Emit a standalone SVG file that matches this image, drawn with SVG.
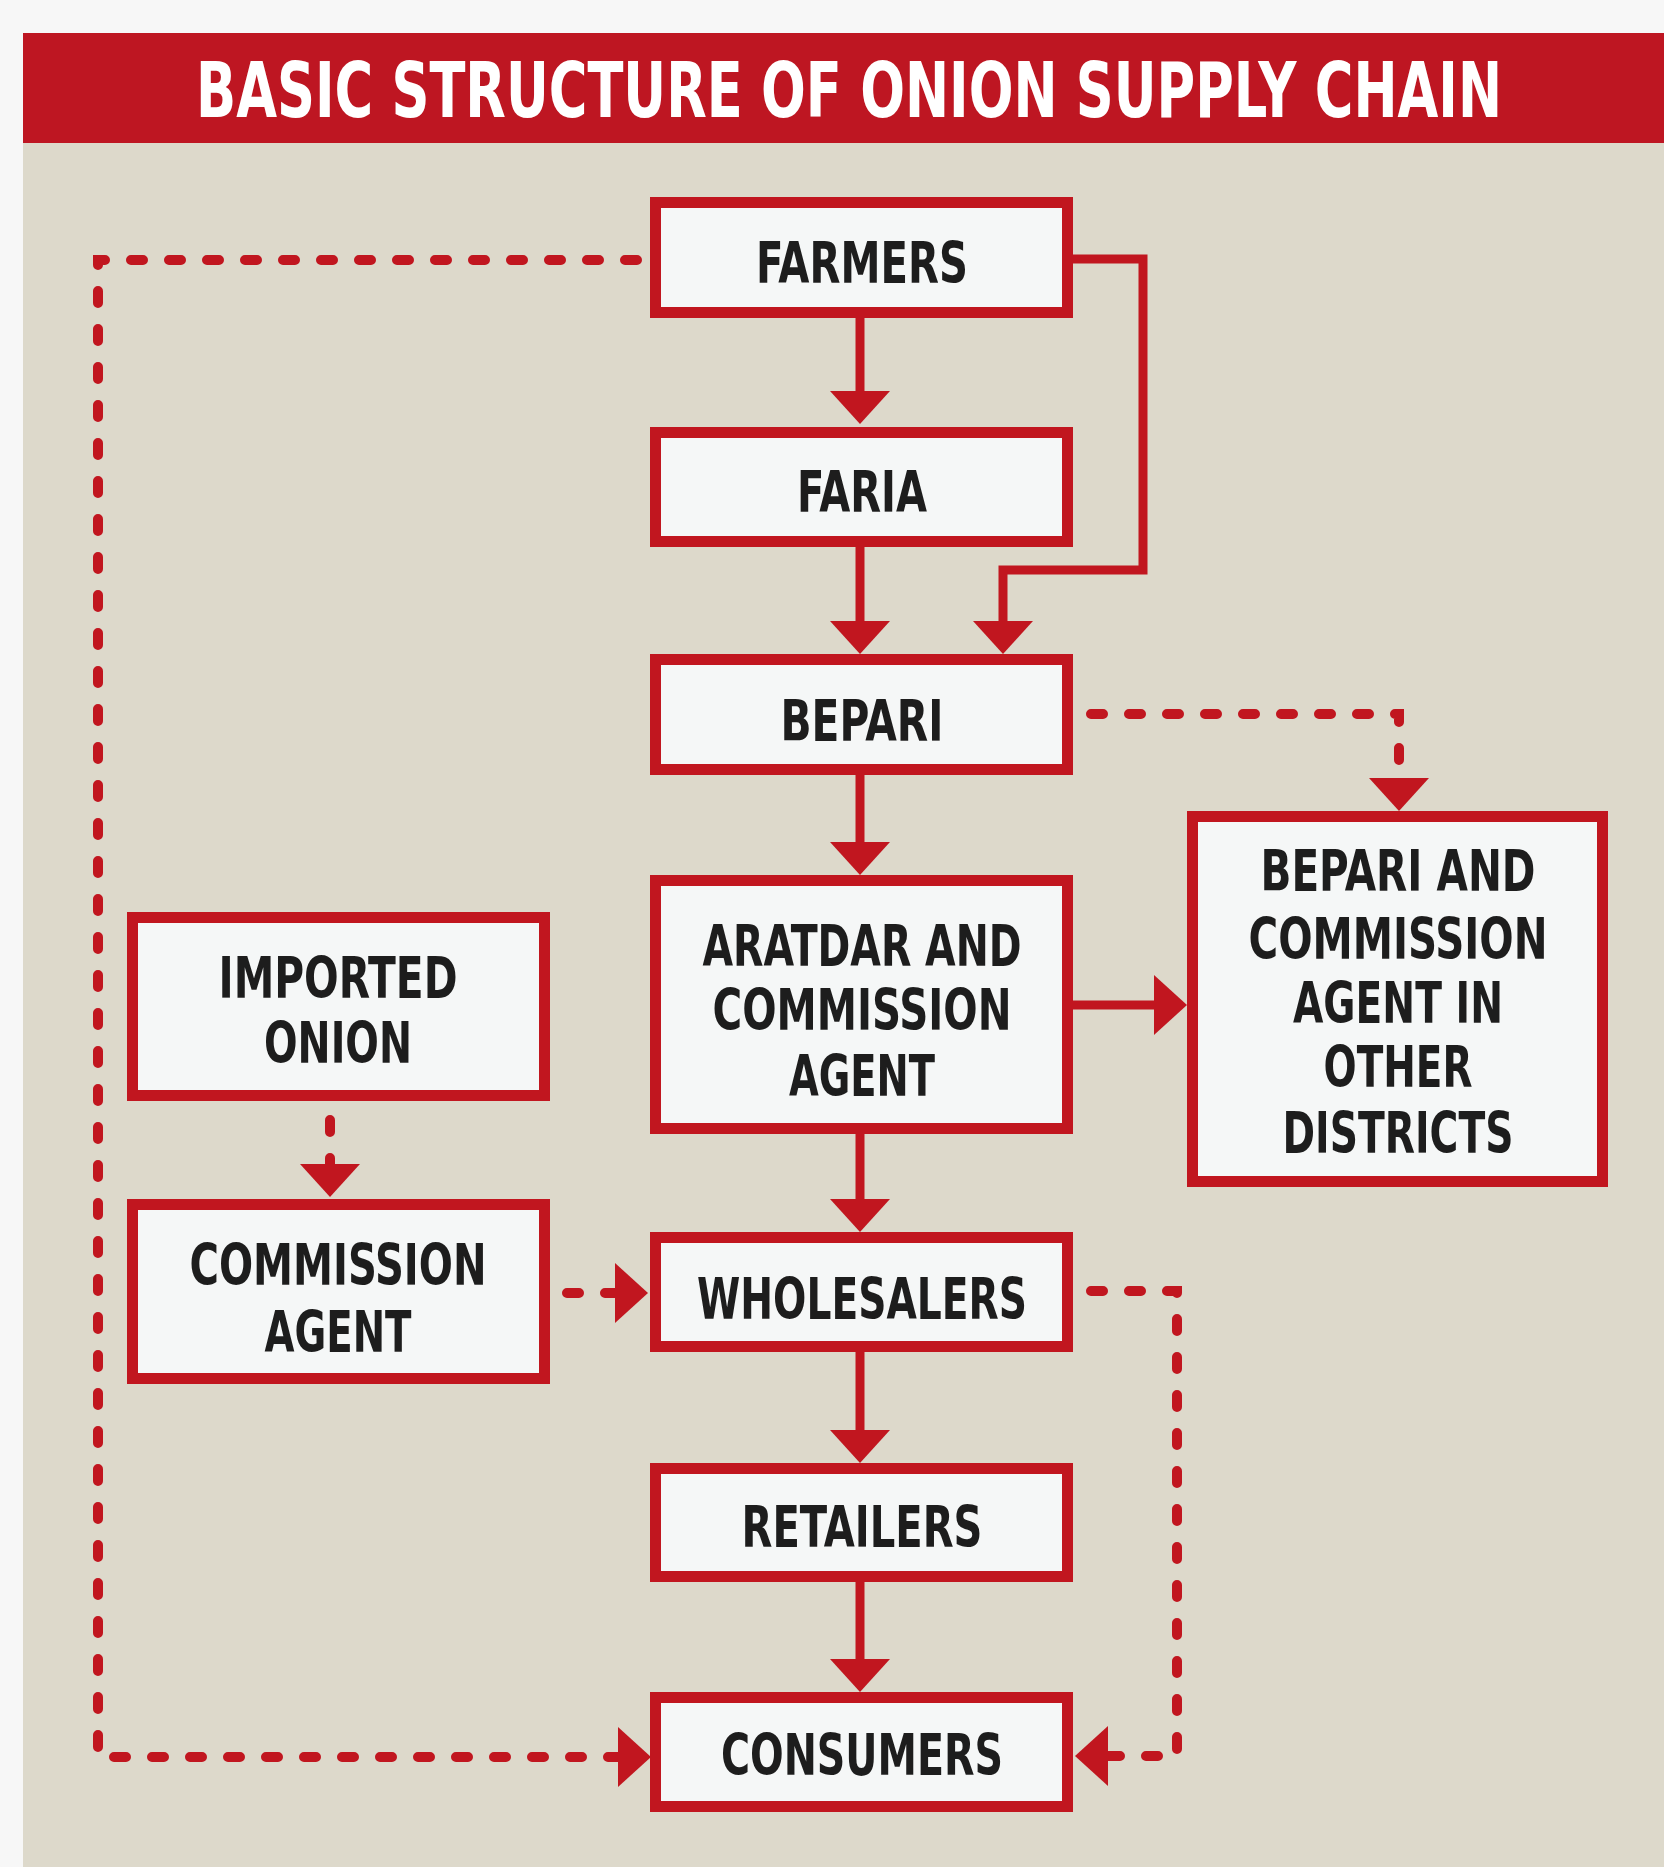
<svg xmlns="http://www.w3.org/2000/svg" width="1664" height="1867" viewBox="0 0 1664 1867">
<defs>
<style>
.box{fill:#f5f7f7;stroke:#c1161f;stroke-width:11}
.lbl{font-family:"Liberation Sans Narrow","DejaVu Sans Condensed","Liberation Sans",sans-serif;font-weight:bold;font-size:57px;fill:#1d1d1d;text-anchor:middle}
.solid{fill:none;stroke:#c1161f;stroke-width:9}
.dash{fill:none;stroke:#c1161f;stroke-width:10;stroke-dasharray:12 26;stroke-linecap:round}
</style>
<marker id="ah" viewBox="0 0 33 60" refX="0" refY="30" markerWidth="33" markerHeight="60" markerUnits="userSpaceOnUse" orient="auto">
<path d="M0,0 L33,30 L0,60 Z" fill="#c1161f"/>
</marker>
</defs>
<rect x="0" y="0" width="1664" height="1867" fill="#f7f7f7"/>
<rect x="23" y="143" width="1641" height="1724" fill="#ddd9cb"/>
<rect x="23" y="33" width="1641" height="110" fill="#be1622"/>
<text x="849" y="117" font-family="'Liberation Sans Narrow','DejaVu Sans Condensed','Liberation Sans',sans-serif" font-weight="bold" font-size="76" fill="#ffffff" text-anchor="middle" textLength="1306" lengthAdjust="spacingAndGlyphs">BASIC STRUCTURE OF ONION SUPPLY CHAIN</text>

<g id="connectors">
<path class="solid" d="M860,318 V391" marker-end="url(#ah)"/>
<path class="solid" d="M860,547 V621" marker-end="url(#ah)"/>
<path class="solid" d="M1073,259 H1143 V570 H1003 V621" marker-end="url(#ah)"/>
<path class="solid" d="M860,775 V842" marker-end="url(#ah)"/>
<path class="solid" d="M1073,1005 H1154" marker-end="url(#ah)"/>
<path class="solid" d="M860,1134 V1199" marker-end="url(#ah)"/>
<path class="solid" d="M860,1352 V1430" marker-end="url(#ah)"/>
<path class="solid" d="M860,1582 V1659" marker-end="url(#ah)"/>
<path class="dash" d="M637,260 H98 V1757 H618" marker-end="url(#ah)"/>
<path class="dash" d="M1091,714 H1399 V778" marker-end="url(#ah)"/>
<path class="dash" d="M330,1120 V1164" marker-end="url(#ah)"/>
<path class="dash" d="M567,1293 H615" marker-end="url(#ah)"/>
<path class="dash" d="M1091,1291 H1177 V1756 H1108" marker-end="url(#ah)"/>
</g>

<g id="farmers"><rect class="box" x="655.5" y="202.5" width="412" height="110"/><text class="lbl" x="862" y="283" textLength="212" lengthAdjust="spacingAndGlyphs">FARMERS</text></g>
<g id="faria"><rect class="box" x="655.5" y="432.5" width="412" height="109"/><text class="lbl" x="862" y="512" textLength="130" lengthAdjust="spacingAndGlyphs">FARIA</text></g>
<g id="bepari"><rect class="box" x="655.5" y="659.5" width="412" height="110"/><text class="lbl" x="862" y="741" textLength="163" lengthAdjust="spacingAndGlyphs">BEPARI</text></g>
<g id="aratdar"><rect class="box" x="655.5" y="880.5" width="412" height="248"/>
<text class="lbl" x="862" y="966" textLength="319" lengthAdjust="spacingAndGlyphs">ARATDAR AND</text>
<text class="lbl" x="862" y="1030" textLength="299" lengthAdjust="spacingAndGlyphs">COMMISSION</text>
<text class="lbl" x="862" y="1096" textLength="146" lengthAdjust="spacingAndGlyphs">AGENT</text></g>
<g id="other-districts"><rect class="box" x="1192.5" y="816.5" width="410" height="365"/>
<text class="lbl" x="1398" y="891" textLength="275" lengthAdjust="spacingAndGlyphs">BEPARI AND</text>
<text class="lbl" x="1398" y="959" textLength="299" lengthAdjust="spacingAndGlyphs">COMMISSION</text>
<text class="lbl" x="1398" y="1023" textLength="210" lengthAdjust="spacingAndGlyphs">AGENT IN</text>
<text class="lbl" x="1398" y="1087" textLength="149" lengthAdjust="spacingAndGlyphs">OTHER</text>
<text class="lbl" x="1398" y="1153" textLength="231" lengthAdjust="spacingAndGlyphs">DISTRICTS</text></g>
<g id="imported-onion"><rect class="box" x="132.5" y="917.5" width="412" height="178"/>
<text class="lbl" x="338" y="998" textLength="239" lengthAdjust="spacingAndGlyphs">IMPORTED</text>
<text class="lbl" x="338" y="1063" textLength="148" lengthAdjust="spacingAndGlyphs">ONION</text></g>
<g id="commission-agent"><rect class="box" x="132.5" y="1204.5" width="412" height="174"/>
<text class="lbl" x="338" y="1285" textLength="297" lengthAdjust="spacingAndGlyphs">COMMISSION</text>
<text class="lbl" x="338" y="1352" textLength="147" lengthAdjust="spacingAndGlyphs">AGENT</text></g>
<g id="wholesalers"><rect class="box" x="655.5" y="1237.5" width="412" height="109"/><text class="lbl" x="862" y="1319" textLength="330" lengthAdjust="spacingAndGlyphs">WHOLESALERS</text></g>
<g id="retailers"><rect class="box" x="655.5" y="1468.5" width="412" height="108"/><text class="lbl" x="862" y="1547" textLength="241" lengthAdjust="spacingAndGlyphs">RETAILERS</text></g>
<g id="consumers"><rect class="box" x="655.5" y="1697.5" width="412" height="109"/><text class="lbl" x="862" y="1775" textLength="282" lengthAdjust="spacingAndGlyphs">CONSUMERS</text></g>
</svg>
